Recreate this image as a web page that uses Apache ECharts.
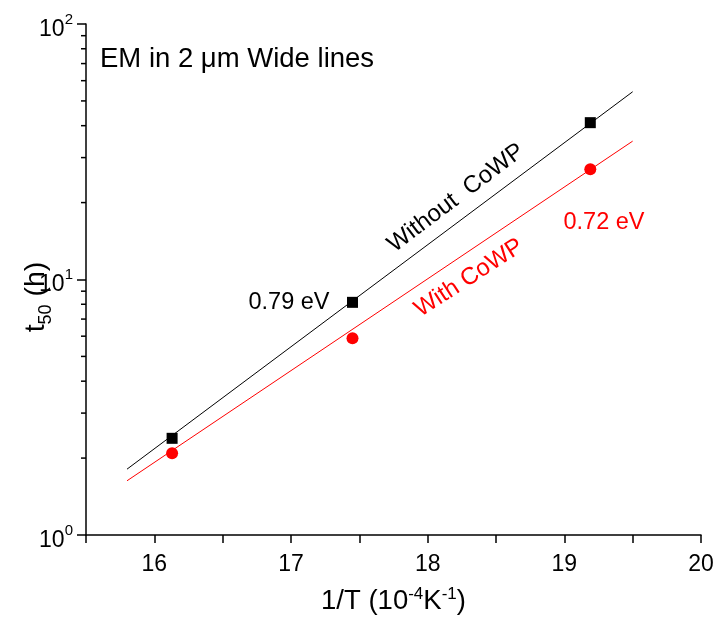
<!DOCTYPE html>
<html>
<head>
<meta charset="utf-8">
<script src="https://cdn.jsdelivr.net/npm/echarts@6/dist/echarts.min.js"></script>
<style>
html,body{margin:0;padding:0;background:#fff;}
#c{width:719px;height:627px;}
</style>
</head>
<body>
<div id="c"></div>
<script>
// ---- data ----
var invT = [16.13, 17.45, 19.19];
var t50Without = [2.39, 8.14, 41.1];
var t50With = [2.09, 5.89, 27.0];
var fitX = [15.8, 19.5];
var fitWithout = [1.81, 54.3];
var fitWith = [1.63, 34.8];
var xTickLabels = [16, 17, 18, 19, 20];
var yMinorTicks = [2, 3, 4, 5, 6, 7, 8, 9, 20, 30, 40, 50, 60, 70, 80, 90];

var FONT = '"Liberation Sans", Arial, sans-serif';
var chart = echarts.init(document.getElementById('c'));

function pairs(xs, ys) { return xs.map(function (x, i) { return [x, ys[i]]; }); }

var option = {
  animation: false,
  backgroundColor: '#fff',
  grid: { left: 86, right: 18, top: 24, bottom: 92, containLabel: false },
  xAxis: {
    type: 'value', min: 15.5, max: 20, interval: 0.5,
    axisLine: { show: true, lineStyle: { color: '#000', width: 1.5 } },
    axisTick: { show: true, length: 8, inside: false, lineStyle: { color: '#000', width: 1.5 } },
    splitLine: { show: false },
    axisLabel: {
      color: '#000', fontFamily: FONT, fontSize: 23, margin: 18,
      showMinLabel: true, showMaxLabel: true,
      formatter: function (v) { return xTickLabels.indexOf(v) >= 0 ? String(v) : ''; }
    },
    name: '{n|1/T (10}{s|-4}{n|K}{s|-1}{n|)}',
    nameLocation: 'middle', nameGap: 48,
    nameTextStyle: {
      fontFamily: FONT, color: '#000',
      rich: {
        n: { fontSize: 27.5, fontFamily: FONT, color: '#000', lineHeight: 32, verticalAlign: 'bottom' },
        s: { fontSize: 17, fontFamily: FONT, color: '#000', lineHeight: 32, verticalAlign: 'bottom', padding: [0, 0, 12, 0] }
      }
    }
  },
  yAxis: {
    type: 'log', logBase: 10, min: 1, max: 100,
    axisLine: { show: true, lineStyle: { color: '#000', width: 1.5 } },
    axisTick: { show: true, length: 9, inside: false, lineStyle: { color: '#000', width: 1.5 } },
    splitLine: { show: false },
    minorTick: { show: false },
    axisLabel: {
      color: '#000', fontFamily: FONT, margin: 13,
      formatter: function (v) {
        var e = Math.round(Math.log(v) / Math.LN10);
        return '{b|10}{s|' + e + '}';
      },
      rich: {
        b: { fontSize: 23, fontFamily: FONT, color: '#000', lineHeight: 26, verticalAlign: 'bottom', padding: [0, 0, -4, 0] },
        s: { fontSize: 15, fontFamily: FONT, color: '#000', lineHeight: 26, verticalAlign: 'bottom', padding: [0, 0, 10, 0] }
      }
    }
  },
  series: [
    {
      type: 'line', data: pairs(fitX, fitWithout), showSymbol: false, symbol: 'none',
      lineStyle: { color: '#000', width: 1 }, silent: true, z: 2
    },
    {
      type: 'line', data: pairs(fitX, fitWith), showSymbol: false, symbol: 'none',
      lineStyle: { color: '#ff0000', width: 1 }, silent: true, z: 2
    },
    {
      type: 'scatter', data: pairs(invT, t50Without), symbol: 'rect', symbolSize: 11,
      itemStyle: { color: '#000', opacity: 1 }, z: 3
    },
    {
      type: 'scatter', data: pairs(invT, t50With), symbol: 'circle', symbolSize: 12,
      itemStyle: { color: '#ff0000', opacity: 1 }, z: 3
    },
    {
      type: 'custom', clip: false, silent: true, z: 4,
      data: yMinorTicks.map(function (v) { return [15.5, v]; }),
      renderItem: function (params, api) {
        var p = api.coord([api.value(0), api.value(1)]);
        return {
          type: 'line',
          shape: { x1: p[0] - 5, y1: p[1], x2: p[0], y2: p[1] },
          style: { stroke: '#000', lineWidth: 1.5 }
        };
      }
    }
  ],
  graphic: [
    {
      type: 'text', x: 100, y: 59,
      style: { text: 'EM in 2 \u03bcm Wide lines', fontFamily: FONT, fontSize: 27.5, fill: '#000', verticalAlign: 'middle', align: 'left' }
    },
    {
      type: 'text', x: 289, y: 303,
      style: { text: '0.79 eV', fontFamily: FONT, fontSize: 23.5, fill: '#000', verticalAlign: 'middle', align: 'center' }
    },
    {
      type: 'text', x: 604, y: 223,
      style: { text: '0.72 eV', fontFamily: FONT, fontSize: 23.5, fill: '#ff0000', verticalAlign: 'middle', align: 'center' }
    },
    {
      type: 'text', x: 456, y: 198, rotation: 37 * Math.PI / 180,
      style: { text: 'Without  CoWP', fontFamily: FONT, fontSize: 24, fill: '#000', verticalAlign: 'middle', align: 'center' }
    },
    {
      type: 'text', x: 469, y: 278, rotation: 33 * Math.PI / 180,
      style: { text: 'With CoWP', fontFamily: FONT, fontSize: 24, fill: '#ff0000', verticalAlign: 'middle', align: 'center' }
    },
    {
      type: 'text', x: 39, y: 297, rotation: Math.PI / 2,
      style: {
        text: '{n|t}{s|50}{n| (h)}', align: 'center', verticalAlign: 'middle',
        rich: {
          n: { fontSize: 28.5, fontFamily: FONT, fill: '#000', lineHeight: 34, verticalAlign: 'top' },
          s: { fontSize: 18, fontFamily: FONT, fill: '#000', lineHeight: 34, verticalAlign: 'top', padding: [15, 0, 0, 0] }
        }
      }
    }
  ]
};
chart.setOption(option);
</script>
</body>
</html>
